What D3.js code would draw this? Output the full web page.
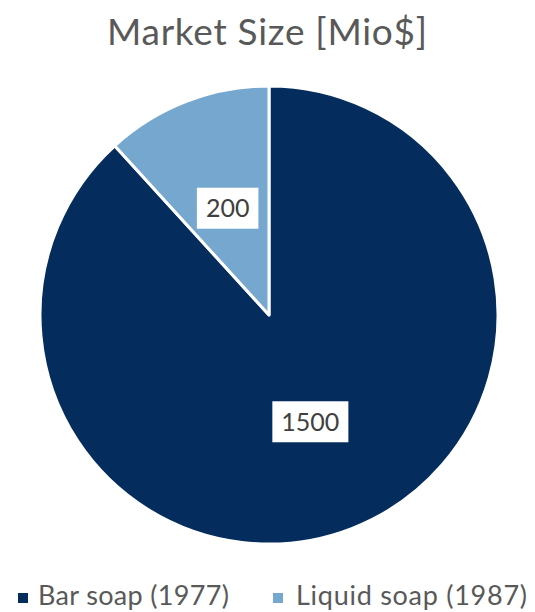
<!DOCTYPE html>
<html>
<head>
<meta charset="utf-8">
<script src="https://cdn.jsdelivr.net/npm/d3@7"></script>
<style>
  html, body { margin: 0; padding: 0; background: #fff; }
  svg { display: block; }
</style>
</head>
<body>
<svg id="chart" width="535" height="612"></svg>
<script>
// Market size by product type
const categories = ["Bar soap (1977)", "Liquid soap (1987)"];
const values = [1500, 200];
const colors = ["#042C5C", "#76A7CF"];
const title = "Market Size [Mio$]";

const width = 535, height = 612;
const cx = 269, cy = 315, radius = 229;
const fontFamily = "Lato, 'Open Sans', sans-serif";
const textColor = "#595959";

const svg = d3.select("#chart");

svg.append("text")
  .attr("x", 267)
  .attr("y", 45)
  .attr("text-anchor", "middle")
  .attr("font-family", fontFamily)
  .attr("font-size", 37)
  .attr("fill", textColor)
  .attr("textLength", 320)
  .attr("lengthAdjust", "spacing")
  .text(title);

const data = categories.map((c, i) => ({ category: c, value: values[i], color: colors[i] }));

const pie = d3.pie().value(d => d.value).sort(null);
const arc = d3.arc().innerRadius(0).outerRadius(radius);
const arcs = pie(data);

const g = svg.append("g").attr("transform", `translate(${cx},${cy})`);

g.selectAll("path.slice")
  .data(arcs)
  .join("path")
  .attr("class", "slice")
  .attr("d", arc)
  .attr("fill", d => d.data.color)
  .attr("stroke", "#fff")
  .attr("stroke-width", 3)
  .attr("stroke-linejoin", "round");

// Value labels in white boxes at the slice centroids
const labels = g.selectAll("g.label")
  .data(arcs)
  .join("g")
  .attr("class", "label")
  .attr("transform", d => `translate(${arc.centroid(d)})`);

labels.each(function(d) {
  const lg = d3.select(this);
  const t = lg.append("text")
    .attr("text-anchor", "middle")
    .attr("dy", "0.35em")
    .attr("font-family", fontFamily)
    .attr("font-size", 25)
    .attr("fill", "#404040")
    .text(d.data.value);
  const bb = t.node().getBBox();
  const padX = 9, h = 41;
  lg.insert("rect", "text")
    .attr("x", -bb.width / 2 - padX)
    .attr("y", -h / 2)
    .attr("width", bb.width + 2 * padX)
    .attr("height", h)
    .attr("fill", "#fff");
});

// Legend
const legendItems = [
  { x: 18, textX: 38, len: 191 },
  { x: 273, textX: 296, len: 231 }
];
const legend = svg.selectAll("g.legend")
  .data(data)
  .join("g")
  .attr("class", "legend");

legend.append("rect")
  .attr("x", (d, i) => legendItems[i].x)
  .attr("y", 593)
  .attr("width", 10)
  .attr("height", 10)
  .attr("fill", d => d.color);

legend.append("text")
  .attr("x", (d, i) => legendItems[i].textX)
  .attr("y", 605)
  .attr("font-family", fontFamily)
  .attr("font-size", 27)
  .attr("fill", textColor)
  .attr("textLength", (d, i) => legendItems[i].len)
  .attr("lengthAdjust", "spacing")
  .text(d => d.category);
</script>
</body>
</html>
